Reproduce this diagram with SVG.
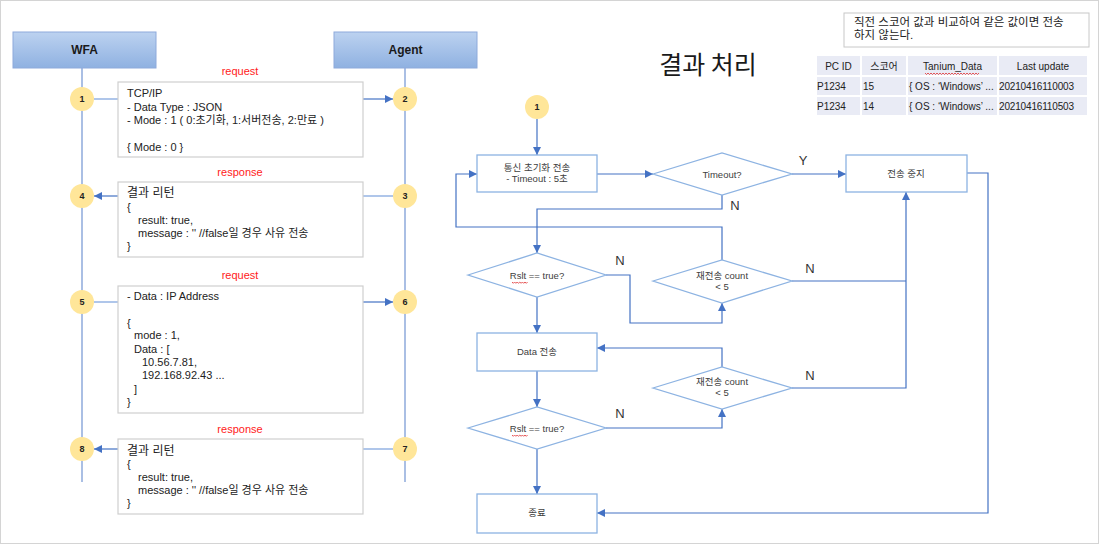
<svg xmlns="http://www.w3.org/2000/svg" width="1100" height="545" viewBox="0 0 1100 545">
<style>
text{font-family:"Liberation Sans","Noto Sans CJK KR",sans-serif;}
.hdr{fill:url(#hg);stroke:#8eaadb;stroke-width:1;}
.hdrt{font-size:12px;font-weight:bold;fill:#1a1a1a;text-anchor:middle;}
.life{stroke:#8eaadb;stroke-width:1.5;fill:none;}
.num{fill:#ffe699;}
.numt{font-size:9px;font-weight:bold;fill:#222;text-anchor:middle;}
.msg{fill:#fff;stroke:#cfcfcf;stroke-width:1.2;}
.mt{font-size:11px;fill:#222;}
.mt2{font-size:12px;fill:#222;}
.lbl{font-size:11px;fill:#ff1a1a;text-anchor:middle;}
.ln{stroke:#4472c4;stroke-width:1.2;fill:none;}
.lnl{stroke:#7aa0dc;stroke-width:1.2;fill:none;}
.sh{fill:#fff;stroke:#8db3e2;stroke-width:1.3;}
.ft{font-size:9.5px;fill:#404040;text-anchor:middle;}
.yn{font-size:13px;fill:#333;text-anchor:middle;}
.cell{fill:#e9ebf5;}
.tt{font-size:10px;fill:#222;}
.sq{stroke:#e03030;stroke-width:0.8;fill:none;}
</style>
<defs>
<linearGradient id="hg" x1="0" y1="0" x2="0" y2="1">
<stop offset="0" stop-color="#bcd2f0"/>
<stop offset="1" stop-color="#8fb1e1"/>
</linearGradient>
<marker id="ar" markerUnits="userSpaceOnUse" markerWidth="9" markerHeight="8" refX="8" refY="4" orient="auto">
<path d="M0,0 L8,4 L0,8 z" fill="#4472c4"/>
</marker>
</defs>
<rect x="0.5" y="0.5" width="1098" height="543" fill="#fff" stroke="#d4d4d4" stroke-width="1"/>

<g id="lifelines">
<line class="life" x1="82" y1="68" x2="82" y2="482"/>
<line class="life" x1="405" y1="68" x2="405" y2="482"/>
</g>
<g id="wfa"><rect class="hdr" x="13" y="32" width="143" height="36"/><text class="hdrt" x="84.5" y="54">WFA</text></g>
<g id="agent"><rect class="hdr" x="334" y="32" width="143" height="36"/><text class="hdrt" x="405.5" y="54">Agent</text></g>

<g id="seq-connectors">
<line class="lnl" x1="94" y1="99" x2="118" y2="99"/>
<line class="ln" x1="363" y1="99" x2="393" y2="99" marker-end="url(#ar)"/>
<line class="lnl" x1="393" y1="196" x2="363" y2="196"/>
<line class="ln" x1="118" y1="196" x2="94" y2="196" marker-end="url(#ar)"/>
<line class="lnl" x1="94" y1="302" x2="118" y2="302"/>
<line class="ln" x1="363" y1="302" x2="393" y2="302" marker-end="url(#ar)"/>
<line class="lnl" x1="393" y1="449" x2="363" y2="449"/>
<line class="ln" x1="118" y1="449" x2="94" y2="449" marker-end="url(#ar)"/>
</g>

<g id="n1"><circle class="num" cx="82" cy="99" r="12"/><text class="numt" x="82" y="102">1</text></g>
<g id="n2"><circle class="num" cx="405" cy="99" r="12"/><text class="numt" x="405" y="102">2</text></g>
<g id="n3"><circle class="num" cx="405" cy="196" r="12"/><text class="numt" x="405" y="199">3</text></g>
<g id="n4"><circle class="num" cx="82" cy="196" r="12"/><text class="numt" x="82" y="199">4</text></g>
<g id="n5"><circle class="num" cx="82" cy="302" r="12"/><text class="numt" x="82" y="305">5</text></g>
<g id="n6"><circle class="num" cx="405" cy="302" r="12"/><text class="numt" x="405" y="305">6</text></g>
<g id="n7"><circle class="num" cx="405" cy="449" r="12"/><text class="numt" x="405" y="452">7</text></g>
<g id="n8"><circle class="num" cx="82" cy="449" r="12"/><text class="numt" x="82" y="452">8</text></g>

<g id="msg1">
<text class="lbl" x="240" y="75">request</text>
<rect class="msg" x="118" y="82" width="245" height="75"/>
<text class="mt" x="127" y="97">TCP/IP</text>
<text class="mt" x="127" y="111">- Data Type : JSON</text>
<text class="mt" x="127" y="124">- Mode : 1 ( 0:초기화, 1:서버전송, 2:만료 )</text>
<text class="mt" x="127" y="151">{ Mode : 0 }</text>
</g>
<g id="msg2">
<text class="lbl" x="240" y="176">response</text>
<rect class="msg" x="118" y="182" width="245" height="75"/>
<text class="mt2" x="127" y="197">결과 리턴</text>
<text class="mt" x="127" y="211">{</text>
<text class="mt" x="138" y="224">result: true,</text>
<text class="mt" x="138" y="237">message : '' //false일 경우 사유 전송</text>
<text class="mt" x="127" y="250">}</text>
</g>
<g id="msg3">
<text class="lbl" x="240" y="279">request</text>
<rect class="msg" x="118" y="286" width="245" height="127"/>
<text class="mt" x="127" y="300">- Data : IP Address</text>
<text class="mt" x="127" y="327">{</text>
<text class="mt" x="134" y="339">mode : 1,</text>
<text class="mt" x="134" y="353">Data : [</text>
<text class="mt" x="142" y="366">10.56.7.81,</text>
<text class="mt" x="142" y="379">192.168.92.43 ...</text>
<text class="mt" x="134" y="393">]</text>
<text class="mt" x="127" y="406">}</text>
</g>
<g id="msg4">
<text class="lbl" x="240" y="433">response</text>
<rect class="msg" x="118" y="439" width="245" height="75"/>
<text class="mt2" x="127" y="455">결과 리턴</text>
<text class="mt" x="127" y="468">{</text>
<text class="mt" x="138" y="481">result: true,</text>
<text class="mt" x="138" y="494">message : '' //false일 경우 사유 전송</text>
<text class="mt" x="127" y="507">}</text>
</g>

<g id="title"><text x="708" y="74" font-size="25" fill="#1a1a1a" text-anchor="middle" style="font-family:'Noto Sans CJK KR',sans-serif">결과 처리</text></g>

<g id="note">
<rect x="844" y="13" width="245" height="34" fill="#fff" stroke="#c8c8c8" stroke-width="1"/>
<text x="854" y="26" font-size="11.5" fill="#222">직전 스코어 값과 비교하여 같은 값이면 전송</text>
<text x="854" y="39" font-size="11.5" fill="#222">하지 않는다.</text>
</g>

<g id="table">
<rect class="cell" x="817" y="56" width="43" height="19"/>
<rect class="cell" x="862" y="56" width="44" height="19"/>
<rect class="cell" x="908" y="56" width="89" height="19"/>
<rect class="cell" x="999" y="56" width="88" height="19"/>
<rect class="cell" x="817" y="77" width="43" height="18"/>
<rect class="cell" x="862" y="77" width="44" height="18"/>
<rect class="cell" x="908" y="77" width="89" height="18"/>
<rect class="cell" x="999" y="77" width="88" height="18"/>
<rect class="cell" x="817" y="97" width="43" height="18"/>
<rect class="cell" x="862" y="97" width="44" height="18"/>
<rect class="cell" x="908" y="97" width="89" height="18"/>
<rect class="cell" x="999" y="97" width="88" height="18"/>
<text class="tt" x="838.5" y="69.5" text-anchor="middle">PC ID</text>
<text class="tt" x="884" y="69.5" text-anchor="middle">스코어</text>
<text class="tt" x="952.5" y="69.5" text-anchor="middle">Tanium_Data</text>
<path class="sq" d="M925,73 l1.5,1.5 l1.5,-1.5 l1.5,1.5 l1.5,-1.5 l1.5,1.5 l1.5,-1.5 l1.5,1.5 l1.5,-1.5 l1.5,1.5 l1.5,-1.5 l1.5,1.5 l1.5,-1.5 l1.5,1.5 l1.5,-1.5 l1.5,1.5 l1.5,-1.5 l1.5,1.5 l1.5,-1.5 l1.5,1.5 l1.5,-1.5 l1.5,1.5 l1.5,-1.5 l1.5,1.5 l1.5,-1.5 l1.5,1.5 l1.5,-1.5 l1.5,1.5 l1.5,-1.5 l1.5,1.5 l1.5,-1.5 l1.5,1.5 l1.5,-1.5 l1.5,1.5 l1.5,-1.5 l1.5,1.5 l1.5,-1.5"/>
<text class="tt" x="1043" y="69.5" text-anchor="middle">Last update</text>
<text class="tt" x="817" y="90">P1234</text>
<text class="tt" x="863" y="90">15</text>
<text class="tt" x="909" y="90">{ OS : ‘Windows’ ...</text>
<text class="tt" x="999" y="90" textLength="75">20210416110003</text>
<text class="tt" x="817" y="110">P1234</text>
<text class="tt" x="863" y="110">14</text>
<text class="tt" x="909" y="110">{ OS : ‘Windows’ ...</text>
<text class="tt" x="999" y="110" textLength="75">20210416110503</text>
</g>

<g id="flow-connectors">
<line class="ln" x1="537" y1="119" x2="537" y2="155" marker-end="url(#ar)"/>
<line class="ln" x1="597" y1="174" x2="653" y2="174" marker-end="url(#ar)"/>
<line class="ln" x1="792" y1="174" x2="846" y2="174" marker-end="url(#ar)"/>
<polyline class="ln" points="722,195 722,209 537,209 537,253" marker-end="url(#ar)"/>
<polyline class="ln" points="722,260 722,227 456,227 456,174 477,174" marker-end="url(#ar)"/>
<polyline class="ln" points="606,275 630,275 630,323 722,323 722,303" marker-end="url(#ar)"/>
<line class="ln" x1="792" y1="281" x2="906" y2="281"/>
<line class="ln" x1="537" y1="297" x2="537" y2="333" marker-end="url(#ar)"/>
<line class="ln" x1="537" y1="371" x2="537" y2="407" marker-end="url(#ar)"/>
<polyline class="ln" points="606,428 722,428 722,409" marker-end="url(#ar)"/>
<polyline class="ln" points="722,367 722,348 597,348" marker-end="url(#ar)"/>
<polyline class="ln" points="792,388 906,388 906,192" marker-end="url(#ar)"/>
<line class="ln" x1="537" y1="449" x2="537" y2="494" marker-end="url(#ar)"/>
<polyline class="ln" points="967,173 988,173 988,513 597,513" marker-end="url(#ar)"/>
<text class="yn" x="803" y="165">Y</text>
<text class="yn" x="735" y="210">N</text>
<text class="yn" x="620" y="265">N</text>
<text class="yn" x="810" y="273">N</text>
<text class="yn" x="620" y="418">N</text>
<text class="yn" x="810" y="380">N</text>
</g>

<g id="f-start"><circle class="num" cx="537" cy="107" r="12"/><text class="numt" x="537" y="110">1</text></g>
<g id="f-init"><rect class="sh" x="477" y="155" width="120" height="37"/><text class="ft" x="537" y="171">통신 초기화 전송</text><text class="ft" x="537" y="182">- Timeout : 5초</text></g>
<g id="f-timeout"><polygon class="sh" points="653,174 722,153 792,174 722,195"/><text class="ft" x="722" y="177.5">Timeout?</text></g>
<g id="f-stop"><rect class="sh" x="846" y="155" width="121" height="37"/><text class="ft" x="906" y="177">전송 중지</text></g>
<g id="f-rslt1"><polygon class="sh" points="468,275 537,253 606,275 537,297"/><text class="ft" x="537" y="278.5">Rslt == true?</text><path class="sq" d="M512,282 l1.3,1.3 l1.3,-1.3 l1.3,1.3 l1.3,-1.3 l1.3,1.3 l1.3,-1.3 l1.3,1.3 l1.3,-1.3 l1.3,1.3 l1.3,-1.3 l1.3,1.3 l1.3,-1.3"/></g>
<g id="f-retry1"><polygon class="sh" points="653,281 722,260 792,281 722,303"/><text class="ft" x="722" y="279">재전송 count</text><text class="ft" x="722" y="290">&lt; 5</text></g>
<g id="f-data"><rect class="sh" x="477" y="333" width="120" height="38"/><text class="ft" x="537" y="355">Data 전송</text></g>
<g id="f-retry2"><polygon class="sh" points="653,388 722,367 792,388 722,409"/><text class="ft" x="722" y="385">재전송 count</text><text class="ft" x="722" y="396">&lt; 5</text></g>
<g id="f-rslt2"><polygon class="sh" points="468,428 537,407 606,428 537,449"/><text class="ft" x="537" y="431.5">Rslt == true?</text><path class="sq" d="M512,435 l1.3,1.3 l1.3,-1.3 l1.3,1.3 l1.3,-1.3 l1.3,1.3 l1.3,-1.3 l1.3,1.3 l1.3,-1.3 l1.3,1.3 l1.3,-1.3 l1.3,1.3 l1.3,-1.3"/></g>
<g id="f-end"><rect class="sh" x="477" y="494" width="120" height="39"/><text class="ft" x="537" y="516">종료</text></g>
</svg>
